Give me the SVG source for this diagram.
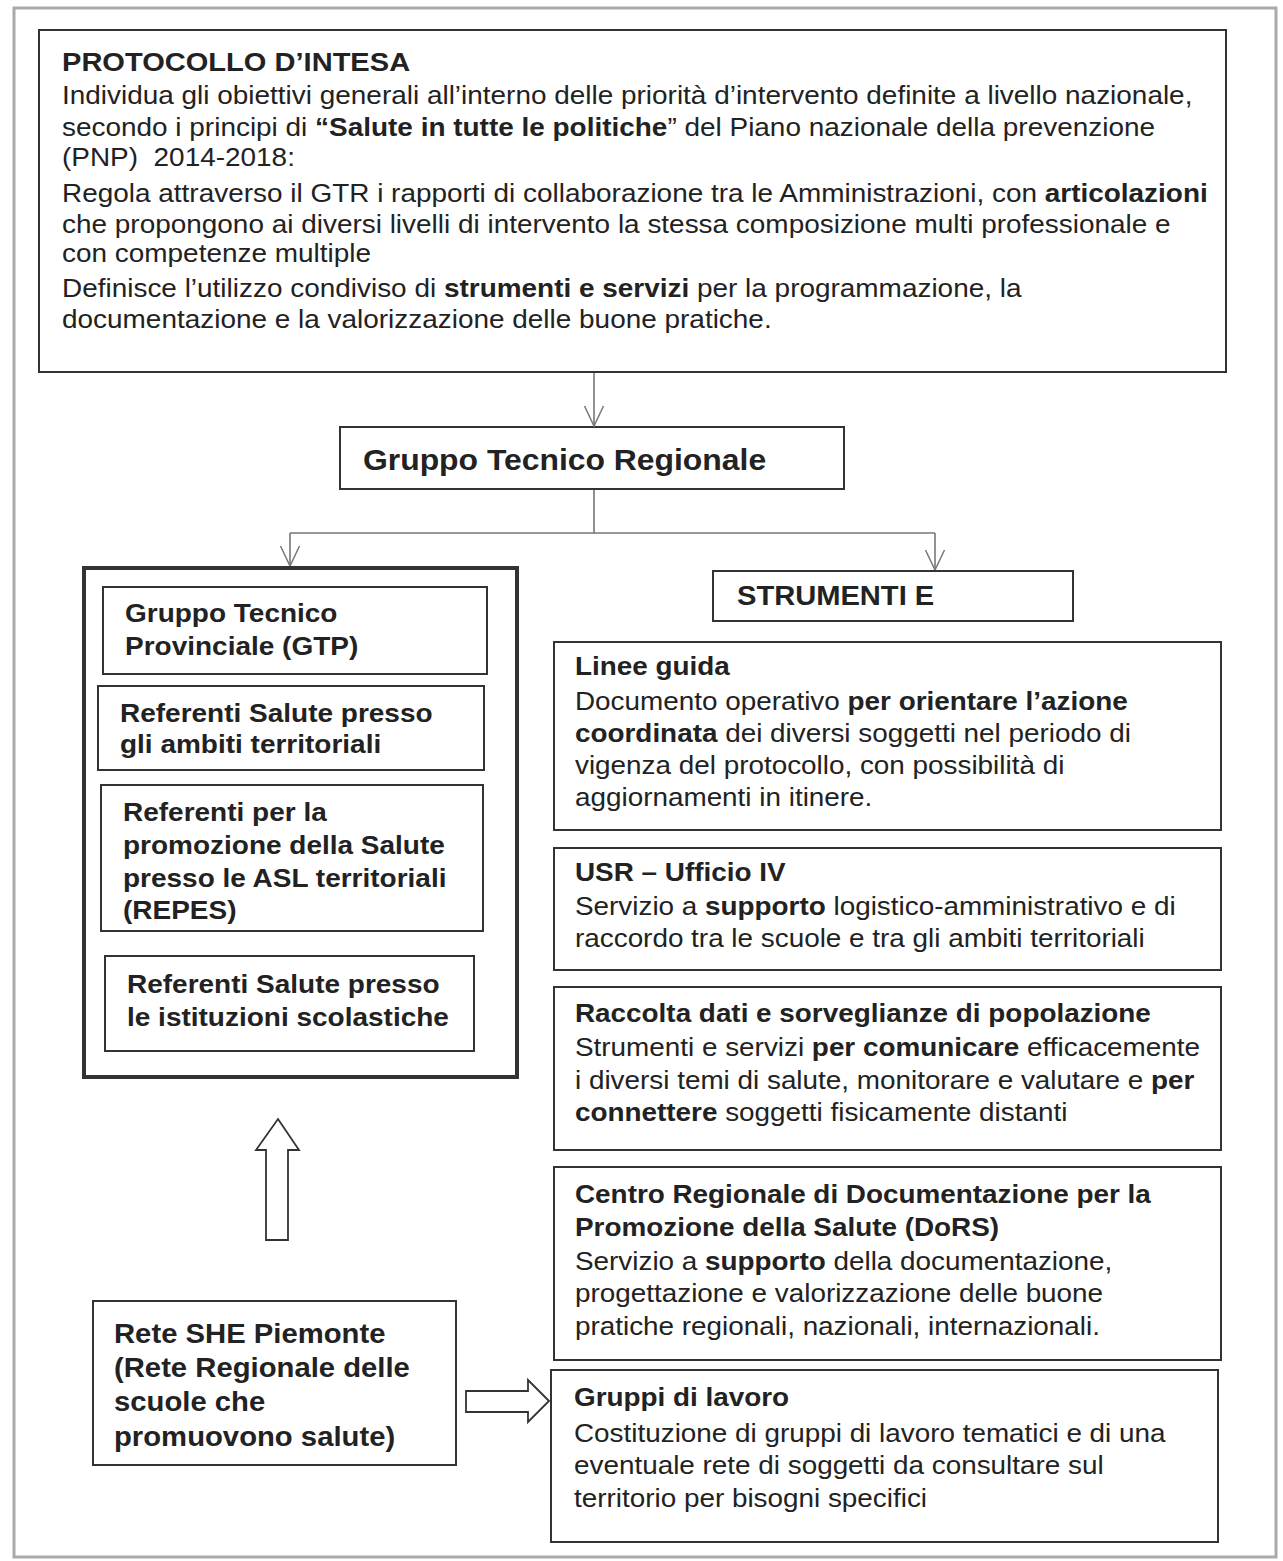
<svg xmlns="http://www.w3.org/2000/svg" width="1283" height="1561" viewBox="0 0 1283 1561">
<defs>
<style>
text{font-family:"Liberation Sans",Arial,Helvetica,sans-serif;fill:#222;}
.box{fill:#fff;stroke:#333;stroke-width:2;}
.thick{fill:#fff;stroke:#333;stroke-width:4;}
.conn{fill:none;stroke:#777;stroke-width:1.6;}
.block{fill:#fff;stroke:#333;stroke-width:1.8;stroke-linejoin:miter;}
.b{font-weight:bold;}
.t1{font-size:25px;}
.tt{font-size:26px;font-weight:bold;}
.lc{font-size:26px;font-weight:bold;}
.rb{font-size:26px;}
.sh{font-size:27px;font-weight:bold;}
</style>
<marker id="v" viewBox="0 0 22 22" refX="21" refY="11" markerWidth="22" markerHeight="22" markerUnits="userSpaceOnUse" orient="auto">
<path d="M1,1.5 L21,11 L1,20.5" fill="none" stroke="#777" stroke-width="1.5"/>
</marker>
</defs>
<rect x="0" y="0" width="1283" height="1561" fill="#fff"/>
<rect x="14" y="8" width="1262" height="1549" fill="none" stroke="#aaa" stroke-width="3"/>

<g id="protocollo">
<rect class="box" x="39" y="30" width="1187" height="342"/>
<g transform="translate(62,0) scale(1.118,1)">
<text class="tt" x="0" y="71">PROTOCOLLO D’INTESA</text>
<text class="t1" x="0" y="104">Individua gli obiettivi generali all’interno delle priorità d’intervento definite a livello nazionale,</text>
<text class="t1" x="0" y="136">secondo i principi di <tspan class="b">“Salute in tutte le politiche</tspan>” del Piano nazionale della prevenzione</text>
<text class="t1" x="0" y="166">(PNP)&#160; 2014-2018:</text>
<text class="t1" x="0" y="202">Regola attraverso il GTR i rapporti di collaborazione tra le Amministrazioni, con <tspan class="b">articolazioni</tspan></text>
<text class="t1" x="0" y="233">che propongono ai diversi livelli di intervento la stessa composizione multi professionale e</text>
<text class="t1" x="0" y="262">con competenze multiple</text>
<text class="t1" x="0" y="297">Definisce l’utilizzo condiviso di <tspan class="b">strumenti e servizi</tspan> per la programmazione, la</text>
<text class="t1" x="0" y="328">documentazione e la valorizzazione delle buone pratiche.</text>
</g>
</g>

<g id="gtr">
<rect class="box" x="340" y="427" width="504" height="62"/>
<text transform="translate(363,0) scale(1.063,1)" x="0" y="470" font-size="30" font-weight="bold">Gruppo Tecnico Regionale</text>
</g>

<g id="connectors">
<line class="conn" x1="594" y1="373" x2="594" y2="426" marker-end="url(#v)"/>
<polyline class="conn" points="594,490 594,533 290,533"/>
<line class="conn" x1="594" y1="533" x2="935" y2="533"/>
<line class="conn" x1="290" y1="533" x2="290" y2="566" marker-end="url(#v)"/>
<line class="conn" x1="935" y1="533" x2="935" y2="570" marker-end="url(#v)"/>
</g>

<g id="articolazioni">
<rect class="thick" x="84" y="568" width="433" height="509"/>
</g>
<g id="gtp">
<rect class="box" x="103" y="587" width="384" height="87"/>
<g transform="translate(125,0) scale(1.077,1)">
<text class="lc" x="0" y="622">Gruppo Tecnico</text>
<text class="lc" x="0" y="655">Provinciale (GTP)</text>
</g>
</g>
<g id="ref-ambiti">
<rect class="box" x="98" y="686" width="386" height="84"/>
<g transform="translate(120,0) scale(1.077,1)">
<text class="lc" x="0" y="722">Referenti Salute presso</text>
<text class="lc" x="0" y="753">gli ambiti territoriali</text>
</g>
</g>
<g id="repes">
<rect class="box" x="101" y="785" width="382" height="146"/>
<g transform="translate(123,0) scale(1.077,1)">
<text class="lc" x="0" y="821">Referenti per la</text>
<text class="lc" x="0" y="854">promozione della Salute</text>
<text class="lc" x="0" y="887">presso le ASL territoriali</text>
<text class="lc" x="0" y="919">(REPES)</text>
</g>
</g>
<g id="ref-scuole">
<rect class="box" x="105" y="956" width="369" height="95"/>
<g transform="translate(127,0) scale(1.077,1)">
<text class="lc" x="0" y="993">Referenti Salute presso</text>
<text class="lc" x="0" y="1026">le istituzioni scolastiche</text>
</g>
</g>

<g id="strumenti">
<rect class="box" x="713" y="571" width="360" height="50"/>
<text transform="translate(737,0) scale(1.078,1)" x="0" y="605" font-size="27" font-weight="bold">STRUMENTI E</text>
</g>

<g id="linee-guida">
<rect class="box" x="554" y="642" width="667" height="188"/>
<g transform="translate(575,0) scale(1.072,1)">
<text class="rb b" x="0" y="675">Linee guida</text>
<text class="rb" x="0" y="710">Documento operativo <tspan class="b">per orientare l’azione</tspan></text>
<text class="rb" x="0" y="742"><tspan class="b">coordinata</tspan> dei diversi soggetti nel periodo di</text>
<text class="rb" x="0" y="774">vigenza del protocollo, con possibilità di</text>
<text class="rb" x="0" y="806">aggiornamenti in itinere.</text>
</g>
</g>

<g id="usr">
<rect class="box" x="554" y="848" width="667" height="122"/>
<g transform="translate(575,0) scale(1.072,1)">
<text class="rb b" x="0" y="881">USR – Ufficio IV</text>
<text class="rb" x="0" y="915">Servizio a <tspan class="b">supporto</tspan> logistico-amministrativo e di</text>
<text class="rb" x="0" y="947">raccordo tra le scuole e tra gli ambiti territoriali</text>
</g>
</g>

<g id="raccolta">
<rect class="box" x="554" y="987" width="667" height="163"/>
<g transform="translate(575,0) scale(1.072,1)">
<text class="rb b" x="0" y="1022">Raccolta dati e sorveglianze di popolazione</text>
<text class="rb" x="0" y="1056">Strumenti e servizi <tspan class="b">per comunicare</tspan> efficacemente</text>
<text class="rb" x="0" y="1089">i diversi temi di salute, monitorare e valutare e <tspan class="b">per</tspan></text>
<text class="rb" x="0" y="1121"><tspan class="b">connettere</tspan> soggetti fisicamente distanti</text>
</g>
</g>

<g id="dors">
<rect class="box" x="554" y="1167" width="667" height="193"/>
<g transform="translate(575,0) scale(1.072,1)">
<text class="rb b" x="0" y="1203">Centro Regionale di Documentazione per la</text>
<text class="rb b" x="0" y="1236">Promozione della Salute (DoRS)</text>
<text class="rb" x="0" y="1270">Servizio a <tspan class="b">supporto</tspan> della documentazione,</text>
<text class="rb" x="0" y="1302">progettazione e valorizzazione delle buone</text>
<text class="rb" x="0" y="1335">pratiche regionali, nazionali, internazionali.</text>
</g>
</g>

<g id="gruppi-lavoro">
<rect class="box" x="551" y="1370" width="667" height="172"/>
<g transform="translate(574,0) scale(1.072,1)">
<text class="rb b" x="0" y="1406">Gruppi di lavoro</text>
<text class="rb" x="0" y="1442">Costituzione di gruppi di lavoro tematici e di una</text>
<text class="rb" x="0" y="1474">eventuale rete di soggetti da consultare sul</text>
<text class="rb" x="0" y="1507">territorio per bisogni specifici</text>
</g>
</g>

<g id="rete-she">
<rect class="box" x="93" y="1301" width="363" height="164"/>
<g transform="translate(114,0) scale(1.084,1)">
<text class="sh" x="0" y="1343">Rete SHE Piemonte</text>
<text class="sh" x="0" y="1377">(Rete Regionale delle</text>
<text class="sh" x="0" y="1411">scuole che</text>
<text class="sh" x="0" y="1446">promuovono salute)</text>
</g>
</g>

<g id="block-arrows">
<polygon class="block" points="278,1119 299,1150 288,1150 288,1240 266,1240 266,1150 256,1150"/>
<polygon class="block" points="549,1401 528,1380 528,1391 466,1391 466,1412 528,1412 528,1422"/>
</g>
</svg>
